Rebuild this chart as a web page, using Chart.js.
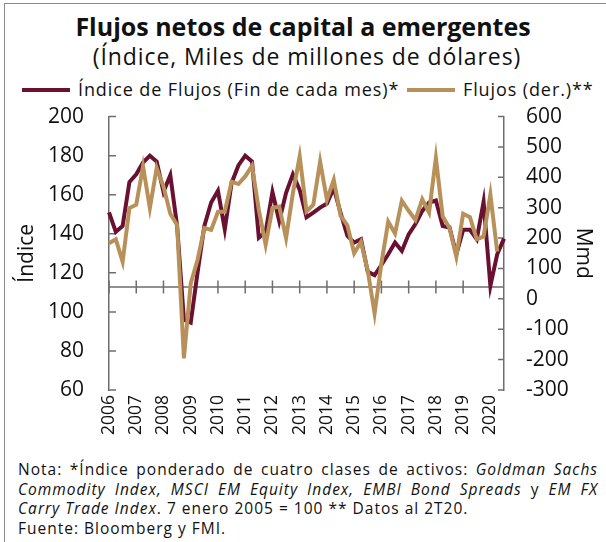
<!DOCTYPE html>
<html>
<head>
<meta charset="utf-8">
<script src="https://cdn.jsdelivr.net/npm/chart.js@4.4.0/dist/chart.umd.min.js"></script>
<style>
  body { margin: 0; background: #fff; font-family: "Open Sans", sans-serif; color: #111; }
  #wrap { position: relative; width: 606px; height: 542px; overflow: hidden; }
  #frame { position: absolute; left: 4px; top: 3px; width: 800px; height: 800px;
           border-left: 1px solid #8a8a8a; border-top: 1px solid #8a8a8a; }
  #title { position: absolute; top: 9px; left: 0; width: 606px; text-align: center;
           font-weight: 700; font-size: 25px; }
  #sub { position: absolute; top: 40px; left: 4px; width: 606px; text-align: center;
         font-size: 23px; letter-spacing: 0.9px; }
  #legend { position: absolute; top: 77px; left: 22px; font-size: 18px; letter-spacing: 0.9px; white-space: nowrap; }
  #legend span.sw { display: inline-block; width: 48px; height: 4px; vertical-align: middle;
                    margin-right: 8px; position: relative; top: -1px; }
  #box { position: absolute; left: 0; top: 87px; width: 606px; height: 368px; }
  #note { position: absolute; left: 18px; top: 460px; width: 580px; font-size: 15.5px; letter-spacing: 1px;
          line-height: 19.5px; white-space: nowrap; }
  #note .j { text-align: justify; text-align-last: justify; }
</style>
</head>
<body>
<div id="wrap">
  <div id="frame"></div>
  <div id="title">Flujos netos de capital a emergentes</div>
  <div id="sub">(Índice, Miles de millones de dólares)</div>
  <div id="legend">
    <span class="sw" style="background:#6a1132"></span>Índice de Flujos (Fin de cada mes)*
    <span class="sw" style="background:#b8915a;margin-left:2px"></span>Flujos (der.)**
  </div>
  <div id="box"><canvas id="chart"></canvas></div>
  <div id="note">
    <div class="j">Nota: *Índice ponderado de cuatro clases de activos: <i>Goldman Sachs</i></div>
    <div class="j"><i>Commodity Index, MSCI EM Equity Index, EMBI Bond Spreads</i> y <i>EM FX</i></div>
    <div><i>Carry Trade Index</i>. 7 enero 2005 = 100 ** Datos al 2T20.</div>
    <div>Fuente: Bloomberg y FMI.</div>
  </div>
</div>

<script>
// years on the axis, quarterly points from 2006T1 to 2020T3
var years = ['2006', '2007', '2008', '2009', '2010', '2011', '2012', '2013',
             '2014', '2015', '2016', '2017', '2018', '2019', '2020'];
var quarters = ['T1', 'T2', 'T3', 'T4'];

// Índice de Flujos (left axis)
var indice = [151, 141, 144, 166.5, 170.5, 176.5, 180, 177,
              161.5, 170, 144, 96, 94.5, 120, 144, 156,
              162, 142.3, 166, 175, 180, 177, 138, 141,
              161.4, 146.5, 161, 170.4, 162.5, 148.5, 150.8, 153.4,
              155.5, 163.5, 150.8, 139, 135.5, 137.2, 120.5, 118.8,
              124, 129.5, 135.5, 131.2, 139.7, 145, 151.7, 156,
              157, 144, 143.2, 129.5, 142, 142, 137.2, 156.3,
              113.3, 129.5, 137.5];

// Flujos, miles de millones de dólares (right axis)
var flujos = [183, 196, 122.5, 299, 310, 436, 299, 431,
              370, 280, 243, -196, 51, 128, 233, 227,
              287, 287, 386, 378, 403, 438, 293, 178,
              299, 304, 200, 348, 469, 287.5, 310, 452,
              326, 392, 274, 242, 150, 188, 92, -48,
              117, 254, 215, 323, 290, 260, 328, 284,
              464, 271, 233, 139, 280, 269, 196, 205,
              343, 156, null];

var labels = [];
years.forEach(function (y) {
  quarters.forEach(function (q) { labels.push(y + q); });
});
labels = labels.slice(0, indice.length);

var axisCross = 112.8; // where the category axis crosses the left scale
var axisColor = '#6e6e6e';

// inward tick marks and the crossing category axis
var axisMarks = {
  id: 'axisMarks',
  beforeDatasetsDraw: function (chart) {
    var ctx = chart.ctx, a = chart.chartArea;
    var x = chart.scales.x, y = chart.scales.y, y1 = chart.scales.y1;
    var yb = y.getPixelForValue(axisCross);
    ctx.save();
    ctx.strokeStyle = axisColor;
    ctx.lineWidth = 1.5;
    ctx.beginPath();
    ctx.moveTo(a.left, yb);
    ctx.lineTo(a.right, yb);
    x.ticks.forEach(function (t, i) {
      if (i % 4 === 0) {
        var px = x.getPixelForTick(i);
        ctx.moveTo(px, yb - 6.5);
        ctx.lineTo(px, yb + 6.5);
      }
    });
    y.ticks.forEach(function (t) {
      var py = y.getPixelForValue(t.value);
      ctx.moveTo(a.left, py);
      ctx.lineTo(a.left + 7, py);
    });
    y1.ticks.forEach(function (t) {
      var py = y1.getPixelForValue(t.value);
      ctx.moveTo(a.right, py);
      ctx.lineTo(a.right - 6, py);
    });
    ctx.stroke();
    ctx.restore();
  }
};

Chart.defaults.font.family = 'Open Sans';
Chart.defaults.color = '#111';

var ctx = document.getElementById('chart').getContext('2d');
var chart = new Chart(ctx, {
  type: 'line',
  data: {
    labels: labels,
    datasets: [
      {
        label: 'Flujos (der.)**',
        data: flujos,
        yAxisID: 'y1',
        borderColor: '#b8915a',
        borderWidth: 4,
        pointRadius: 0,
        tension: 0,
        fill: false,
        order: 0,
      },
      {
        label: 'Índice de Flujos (Fin de cada mes)*',
        data: indice,
        yAxisID: 'y',
        borderColor: '#6a1132',
        borderWidth: 4,
        pointRadius: 0,
        tension: 0,
        fill: false,
        order: 1,
      },
    ],
  },
  options: {
    responsive: true,
    maintainAspectRatio: false,
    animation: false,
    layout: { padding: 0 },
    plugins: {
      legend: { display: false },
      tooltip: { enabled: false },
    },
    scales: {
      x: {
        offset: false,
        grid: { display: false },
        border: { display: false },
        ticks: {
          autoSkip: false,
          maxRotation: 90,
          minRotation: 90,
          padding: -3,
          font: { size: 17.5 },
          callback: function (v, i) { return i % 4 === 0 ? years[i / 4] : ''; },
        },
        afterFit: function (s) { s.height = 65; },
      },
      y: {
        position: 'left',
        min: 60,
        max: 200,
        grid: { display: false },
        border: { display: true, color: axisColor, width: 1.5 },
        ticks: { stepSize: 20, padding: 17, font: { size: 21 } },
        title: { display: true, text: 'Índice', font: { size: 21 }, padding: { top: 14 } },
        afterFit: function (s) { s.width = 109; },
      },
      y1: {
        position: 'right',
        min: -300,
        max: 600,
        grid: { display: false },
        border: { display: true, color: axisColor, width: 1.5 },
        ticks: { stepSize: 100, padding: 14, font: { size: 21 } },
        title: { display: true, text: 'Mmd', font: { size: 21 }, padding: { top: 10 } },
        afterFit: function (s) { s.width = 102; },
      },
    },
  },
  plugins: [axisMarks],
});
</script>
</body>
</html>
